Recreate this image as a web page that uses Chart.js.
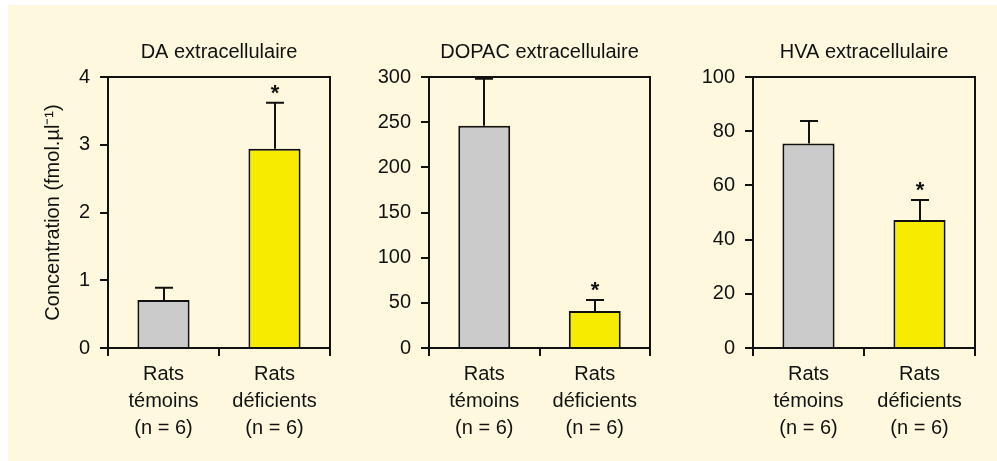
<!DOCTYPE html>
<html><head><meta charset="utf-8">
<script src="https://cdn.jsdelivr.net/npm/chart.js@4/dist/chart.umd.min.js"></script>
<style>
html,body{margin:0;padding:0;background:#fff;overflow:hidden;}
#bg{position:absolute;left:8px;top:5px;width:989px;height:456px;background:#FEF9DE;}
.p{position:absolute;top:0;height:461px;}
</style></head><body>
<div id="bg"></div>
<div class="p" style="left:0;width:345px"><canvas id="c1"></canvas></div>
<div class="p" style="left:345px;width:325px"><canvas id="c2"></canvas></div>
<div class="p" style="left:670px;width:327px"><canvas id="c3"></canvas></div>
<script>
// ---- data ----
const categories = [['Rats','témoins','(n = 6)'], ['Rats','déficients','(n = 6)']];
const panelTitles = ['DA extracellulaire', 'DOPAC extracellulaire', 'HVA extracellulaire'];
const yAxisTitle = 'Concentration (fmol.µl⁻¹)';
const daMeans = [0.71, 2.94];
const daErrors = [0.18, 0.68];
const dopacMeans = [246, 41];
const dopacErrors = [52, 12];
const hvaMeans = [75.5, 47.2];
const hvaErrors = [8.3, 7.4];
const significant = [false, true];
const yMaxes = [4, 300, 100];
const ySteps = [1, 50, 20];

const barColors = ['#CBCBCB', '#F7EC00'];
const FONT = '"Liberation Sans", Arial, sans-serif';
const INK = '#111';

const extras = {
  id: 'extras',
  afterDatasetsDraw(chart, args, opts) {
    const ctx = chart.ctx;
    const y = chart.scales.y;
    const meta = chart.getDatasetMeta(0);
    const ca = chart.chartArea;
    ctx.save();
    ctx.strokeStyle = INK;
    ctx.lineWidth = 2;
    // frame top and right
    ctx.beginPath();
    ctx.moveTo(ca.left, ca.top);
    ctx.lineTo(ca.right, ca.top);
    ctx.lineTo(ca.right, ca.bottom);
    ctx.stroke();
    meta.data.forEach((bar, i) => {
      const top = y.getPixelForValue(opts.means[i] + opts.errors[i]);
      const x = Math.round(bar.x);
      ctx.beginPath();
      ctx.moveTo(x, bar.y);
      ctx.lineTo(x, top);
      ctx.moveTo(x - 9, top);
      ctx.lineTo(x + 9, top);
      ctx.stroke();
      if (opts.sig[i]) {
        ctx.fillStyle = INK;
        ctx.font = 'bold 22px ' + FONT;
        ctx.textAlign = 'center';
        ctx.textBaseline = 'middle';
        ctx.fillText('*', x, top - 9);
      }
    });
    ctx.fillStyle = INK;
    ctx.font = '20px ' + FONT;
    ctx.textAlign = 'center';
    ctx.textBaseline = 'middle';
    ctx.fillText(opts.title, (ca.left + ca.right) / 2, ca.top - 25);
    ctx.restore();
  }
};

function makeChart(id, idx, means, errors, yWidth, padLeft, padRight, showYTitle) {
  return new Chart(document.getElementById(id), {
    type: 'bar',
    data: {
      labels: categories,
      datasets: [{
        data: means,
        backgroundColor: barColors,
        borderColor: INK,
        borderWidth: 2,
        barPercentage: 0.47,
        categoryPercentage: 1
      }]
    },
    options: {
      responsive: true,
      maintainAspectRatio: false,
      animation: false,
      events: [],
      layout: { padding: { left: padLeft, right: padRight, top: 77, bottom: 0 } },
      plugins: {
        legend: { display: false },
        tooltip: { enabled: false },
        extras: { means: means, errors: errors, sig: significant, title: panelTitles[idx] }
      },
      scales: {
        x: {
          afterFit: s => { s.height = 113; },
          grid: { drawOnChartArea: false, drawTicks: true, tickLength: 8, color: INK, lineWidth: 2, offset: true },
          border: { display: true, color: INK, width: 2 },
          ticks: { color: INK, font: { family: FONT, size: 20, lineHeight: 1.35 }, padding: 5, maxRotation: 0 }
        },
        y: {
          min: 0, max: yMaxes[idx],
          afterFit: s => { s.width = yWidth; },
          grid: { drawOnChartArea: false, drawTicks: true, tickLength: 8, color: INK, lineWidth: 2 },
          border: { display: true, color: INK, width: 2 },
          ticks: { stepSize: ySteps[idx], color: INK, font: { family: FONT, size: 20 }, padding: 10 },
          title: { display: showYTitle, text: yAxisTitle, color: INK, font: { family: FONT, size: 20 }, padding: { top: 0, bottom: 0 } }
        }
      }
    },
    plugins: [extras]
  });
}

makeChart('c1', 0, daMeans, daErrors, 67, 41, 15, true);
makeChart('c2', 1, dopacMeans, dopacErrors, 84, 0, 20, false);
makeChart('c3', 2, hvaMeans, hvaErrors, 83, 0, 22, false);
</script>
</body></html>
